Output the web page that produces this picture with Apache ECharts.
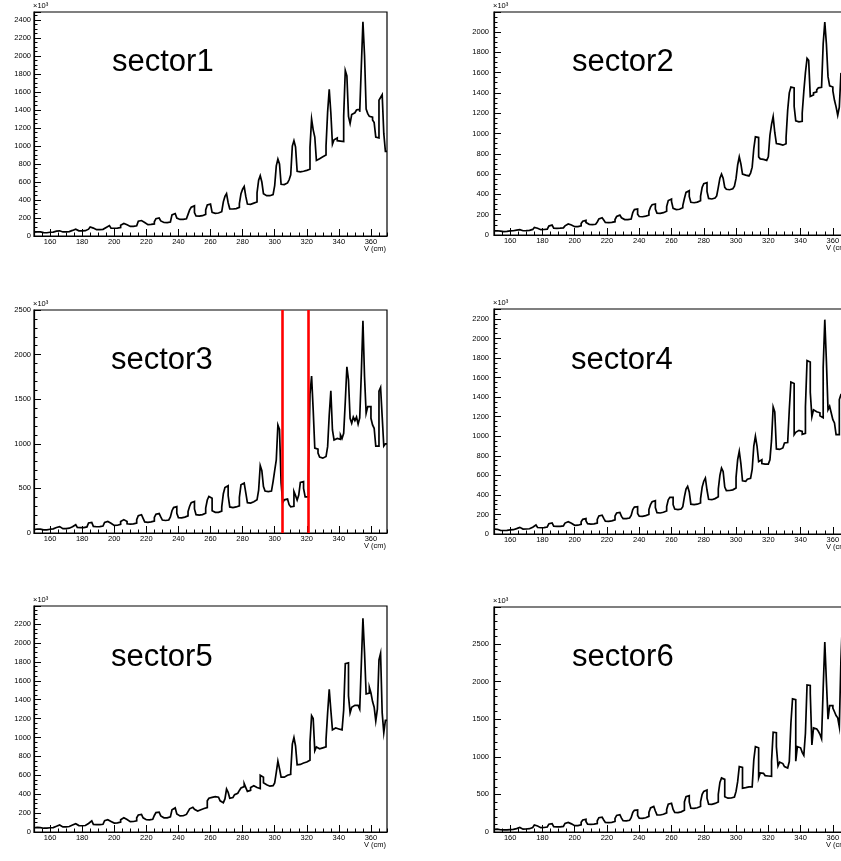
<!DOCTYPE html>
<html><head><meta charset="utf-8">
<script src="https://cdn.jsdelivr.net/npm/echarts@6/dist/echarts.min.js"></script>
<style>html,body{margin:0;padding:0;overflow:hidden;background:#fff}#c{width:870px;height:861px}</style>
</head><body><div id="c"></div>
<script>
// ---- data (values in units of 10^3 counts, 1 cm bins starting at V = 150 cm) ----
const binStart = 150;
const binWidth = 1;
const sectorNames = ['sector1', 'sector2', 'sector3', 'sector4', 'sector5', 'sector6'];
const xTickLabels = [160, 180, 200, 220, 240, 260, 280, 300, 320, 340, 360];
const xTitle = 'V (cm)';
const yScaleTag = '×10³';
const sector3Cuts = [305, 321];

const sector1 = [
 42,46,48,45,40,37,36,36,38,42,
 44,44,47,54,63,58,48,45,45,46,
 47,49,52,62,72,76,68,57,55,56,
 57,59,62,76,92,100,88,72,70,70,
 71,72,74,77,95,110,116,98,87,86,
 86,88,90,93,120,140,146,125,108,106,
 107,108,110,113,135,165,172,176,150,128,
 126,127,129,131,134,158,192,200,206,168,
 150,148,149,152,156,178,235,250,255,200,
 184,182,184,188,192,196,240,290,320,335,
 260,222,220,222,226,232,240,290,345,355,
 340,262,252,252,256,262,270,290,380,440,
 470,370,302,300,302,305,310,318,360,470,
 520,550,440,355,352,358,365,370,378,480,
 620,670,600,470,448,446,448,452,460,470,
 560,780,855,800,575,572,578,590,610,625,
 680,1000,1060,990,720,712,715,720,725,730,
 738,742,985,1300,1180,1100,840,860,870,880,
 890,900,1000,1380,1630,1370,1020,1070,1090,1060,
 1055,1050,1050,1330,1840,1780,1330,1250,1350,1370,
 1375,1400,1410,1380,1890,2380,2010,1410,1360,1330,
 1320,1290,1260,1100,1090,1510,1540,1570,1140,940];

const sector2 = [
 40,42,41,38,34,33,34,35,38,40,
 41,42,44,48,56,52,44,42,42,43,
 44,45,47,55,68,75,66,54,52,53,
 54,55,58,70,88,98,86,68,66,66,
 67,68,70,74,90,108,118,98,84,82,
 82,83,86,90,112,135,144,124,105,103,
 103,104,106,110,128,158,170,174,148,124,
 122,122,124,127,131,152,182,196,203,170,
 152,150,151,154,158,172,222,250,256,205,
 182,180,182,186,190,195,232,275,298,305,
 255,215,213,215,220,226,235,280,340,354,
 330,262,250,250,254,260,268,290,360,420,
 436,380,322,318,320,324,330,338,380,470,
 505,515,430,360,355,358,364,372,385,470,
 560,600,560,470,450,446,450,456,465,480,
 557,690,770,700,600,590,585,582,590,610,
 668,852,967,960,770,750,745,740,735,740,
 770,983,1090,1167,1010,901,895,890,885,890,
 900,960,1230,1400,1458,1450,1268,1125,1115,1110,
 1120,1200,1415,1600,1740,1720,1366,1380,1400,1410,
 1430,1450,1455,1460,1884,2097,1880,1560,1470,1458,
 1420,1327,1262,1180,1260,1590,1600];

const sector3 = [
 38,45,48,44,38,36,35,36,38,42,
 44,46,50,62,82,72,52,48,48,50,
 52,54,57,70,88,93,80,62,60,60,
 61,63,68,90,112,119,100,74,70,70,
 72,74,78,90,118,130,134,110,88,85,
 85,87,90,96,128,150,157,130,104,100,
 100,102,105,112,150,195,205,213,165,124,
 120,121,124,128,134,175,210,218,224,180,
 145,140,142,146,152,180,250,285,295,220,
 172,170,174,178,184,192,240,300,340,354,
 270,205,200,202,206,212,222,280,370,410,
 390,250,232,228,232,238,246,290,440,510,
 530,420,292,285,288,292,298,304,400,540,
 560,571,450,340,335,338,350,365,372,380,
 480,756,700,521,470,465,462,470,480,577,
 700,820,1210,1160,560,340,372,380,360,317,
 294,300,465,420,369,425,566,577,500,405,
 405,633,1555,1760,1380,951,940,895,850,839,
 845,857,860,968,1323,1594,1155,1043,1060,1080,
 1050,1100,1060,1118,1472,1864,1715,1286,1230,1300,
 1260,1300,1220,1290,1790,2380,1752,1342,1417,1417,
 1286,1212,1174,975,975,1590,1632,1305,975,1000];

const sector4 = [
 51,48,42,38,36,36,37,38,40,42,
 43,44,46,55,72,68,54,50,50,51,
 52,54,58,70,85,92,80,66,64,65,
 66,68,72,88,106,113,98,80,78,78,
 79,80,83,90,112,126,130,110,91,89,
 89,90,92,98,125,150,157,135,106,102,
 102,104,106,112,150,185,192,198,160,132,
 130,131,134,138,145,185,215,220,225,180,
 158,157,160,164,170,190,250,275,280,210,
 183,181,184,188,194,200,250,300,330,341,
 270,218,215,218,222,228,236,280,350,375,
 375,300,255,250,252,256,262,280,380,460,
 488,430,305,300,302,305,310,318,360,480,
 540,573,450,355,351,355,362,370,380,460,
 600,675,640,480,443,445,448,452,458,470,
 580,760,846,720,545,539,550,560,570,575,
 660,900,1000,900,740,760,720,715,710,715,
 730,760,960,1300,1250,870,865,870,880,900,
 931,935,940,1272,1555,1540,1016,1040,1060,1040,
 1050,1020,1030,1300,1774,1760,1450,1200,1270,1250,
 1260,1240,1210,1190,1705,2193,1767,1272,1306,1238,
 1170,1136,1016,1016,1375,1426,1430];

const sector5 = [
 45,48,50,46,42,40,40,41,43,45,
 46,47,50,60,81,75,58,54,54,55,
 56,58,62,75,86,88,76,68,66,66,
 67,69,72,90,110,117,100,80,78,78,
 79,80,82,92,120,130,134,112,96,94,
 94,96,98,104,130,150,155,132,112,110,
 110,111,113,118,150,180,186,191,150,130,
 128,129,131,135,140,175,205,210,215,170,
 150,148,150,154,160,180,235,255,258,190,
 170,168,172,178,186,196,215,245,262,268,
 240,222,224,235,250,248,252,258,330,357,
 366,372,374,370,368,355,330,310,305,350,
 455,420,357,365,380,395,410,420,440,465,
 480,512,470,430,440,470,490,480,470,465,
 460,600,580,520,500,490,485,480,490,500,
 520,630,750,670,580,580,590,600,605,610,
 640,930,1000,910,710,715,720,730,735,740,
 745,760,950,1230,1200,860,900,880,885,890,
 890,900,980,1260,1510,1290,1080,1100,1120,1090,
 1085,1080,1090,1290,1780,1790,1440,1260,1320,1340,
 1320,1340,1350,1300,1780,2260,1900,1460,1470,1530,
 1470,1380,1320,1175,1300,1820,1890,1260,1050,1180];

const sector6 = [
 36,38,34,30,28,27,28,29,30,32,
 33,34,37,45,67,60,42,38,38,40,
 42,44,47,60,82,93,80,60,58,58,
 60,62,66,85,104,111,92,70,67,67,
 68,70,74,84,115,128,133,108,86,84,
 84,86,89,95,130,160,169,140,104,102,
 102,104,107,112,150,190,198,204,160,126,
 124,125,128,132,140,180,220,230,235,185,
 150,147,150,155,162,190,260,288,293,220,
 184,182,185,190,198,208,260,320,340,346,
 280,228,226,230,236,244,254,300,370,382,
 382,300,260,258,262,268,276,290,400,470,
 484,400,318,315,318,322,330,340,400,500,
 540,559,450,370,368,372,380,390,400,500,
 660,719,700,470,450,448,452,458,465,470,
 540,670,870,860,582,590,600,600,598,600,
 610,960,1136,1120,720,786,780,760,750,745,
 742,740,937,1327,1320,1136,878,930,910,900,
 870,850,830,937,1447,1771,1760,941,1136,1120,
 1100,1060,1020,1314,1957,1950,1845,1158,1385,1370,
 1350,1340,1300,1240,1913,2526,2000,1500,1680,1680,
 1650,1600,1550,1520,1400,2290,2840];

const yMax = [2490, 2197, 2500, 2302, 2391, 2993];
const yStep = [200, 200, 500, 200, 200, 500];
const yMinorSplit = [4, 4, 5, 4, 4, 5];
const xMin = 150, xMax = 370;

// ---- layout ----
const gridBoxes = [
  {left: 34,  top: 12,  width: 353, height: 224},
  {left: 494, top: 12,  width: 355, height: 223},
  {left: 34,  top: 310, width: 353, height: 223},
  {left: 494, top: 309, width: 355, height: 225},
  {left: 34,  top: 606, width: 353, height: 226},
  {left: 494, top: 607, width: 355, height: 225}
];
const labelPos = [[112, 62], [572, 62], [111, 360], [571, 360], [111, 657], [572, 657]];
const FONT = '"Liberation Sans", Arial, Helvetica, sans-serif';

const panels = [sector1, sector2, sector3, sector4, sector5, sector6];

// histogram outline: each bin contributes its left and right edge at its height
function histOutline(vals) {
  const pts = [];
  vals.forEach((v, i) => {
    const x0 = binStart + i * binWidth;
    pts.push([x0, v]);
    pts.push([x0 + binWidth, v]);
  });
  return pts;
}

const grid = gridBoxes.map(g => Object.assign({show: true, borderColor: '#000', borderWidth: 1.2, backgroundColor: 'rgba(0,0,0,0)'}, g));
const xAxis = [];
const yAxis = [];
const series = [];
const graphic = [];

panels.forEach((vals, k) => {
  const right = k % 2 === 1;
  xAxis.push({
    type: 'value', gridIndex: k, position: 'bottom', min: xMin, max: xMax, interval: 5,
    axisLine: {show: true, onZero: false, lineStyle: {color: '#000', width: 1.2}},
    axisTick: {show: true, inside: true, length: 3.5, lineStyle: {color: '#000', width: 1}},
    axisLabel: {show: false},
    splitLine: {show: false}
  });
  xAxis.push({
    type: 'value', gridIndex: k, position: 'bottom', min: xMin, max: xMax,
    axisLine: {show: false, onZero: false},
    axisTick: {show: true, inside: true, length: 7, customValues: xTickLabels, lineStyle: {color: '#000', width: 1}},
    axisLabel: {show: true, customValues: xTickLabels, margin: 2, fontSize: 7.5, color: '#000', fontFamily: FONT,
      formatter: v => String(v)},
    splitLine: {show: false}
  });
  const step = yStep[k];
  yAxis.push({
    type: 'value', gridIndex: k, position: 'left', min: 0, max: yMax[k], interval: step,
    axisLine: {show: true, onZero: false, lineStyle: {color: '#000', width: 1.2}},
    axisTick: {show: true, inside: true, length: 7, lineStyle: {color: '#000', width: 1}},
    minorTick: {show: true, splitNumber: yMinorSplit[k], length: 3.5, lineStyle: {color: '#000', width: 1}},
    axisLabel: {show: true, margin: right ? 5 : 3, fontSize: 7.5, color: '#000', fontFamily: FONT,
      formatter: v => (Math.round(v) % step === 0 ? String(Math.round(v)) : '')},
    splitLine: {show: false}, minorSplitLine: {show: false}
  });
  const s = {
    type: 'line', xAxisIndex: 2 * k, yAxisIndex: k, data: histOutline(vals),
    symbol: 'none', showSymbol: false, clip: true, sampling: null,
    lineStyle: {color: '#000', width: 1.7, join: 'miter'}, z: 3
  };
  if (k === 2) {
    s.markLine = {
      silent: true, symbol: ['none', 'none'], label: {show: false},
      lineStyle: {color: '#ff0000', width: 2.6, type: 'solid'},
      data: sector3Cuts.map(x => ({xAxis: x})), z: 5
    };
  }
  series.push(s);

  const g = gridBoxes[k];
  graphic.push({
    type: 'text', x: labelPos[k][0], y: labelPos[k][1], z: 10,
    style: {text: sectorNames[k], font: '31px ' + FONT, fill: '#000',
      align: 'left', verticalAlign: 'middle', textAlign: 'left', textVerticalAlign: 'middle'}
  });
  graphic.push({
    type: 'text', x: g.left - 1, y: g.top - 6, z: 10,
    style: {text: yScaleTag, font: '7.5px ' + FONT, fill: '#000',
      align: 'left', verticalAlign: 'middle', textAlign: 'left', textVerticalAlign: 'middle'}
  });
  graphic.push({
    type: 'text', x: g.left + g.width - 1, y: g.top + g.height + 13, z: 10,
    style: {text: xTitle, font: '7.5px ' + FONT, fill: '#000',
      align: 'right', verticalAlign: 'middle', textAlign: 'right', textVerticalAlign: 'middle'}
  });
});

const chart = echarts.init(document.getElementById('c'), null, {renderer: 'canvas'});
chart.setOption({
  animation: false,
  backgroundColor: '#fff',
  grid, xAxis, yAxis, series, graphic
});
</script>
</body></html>
